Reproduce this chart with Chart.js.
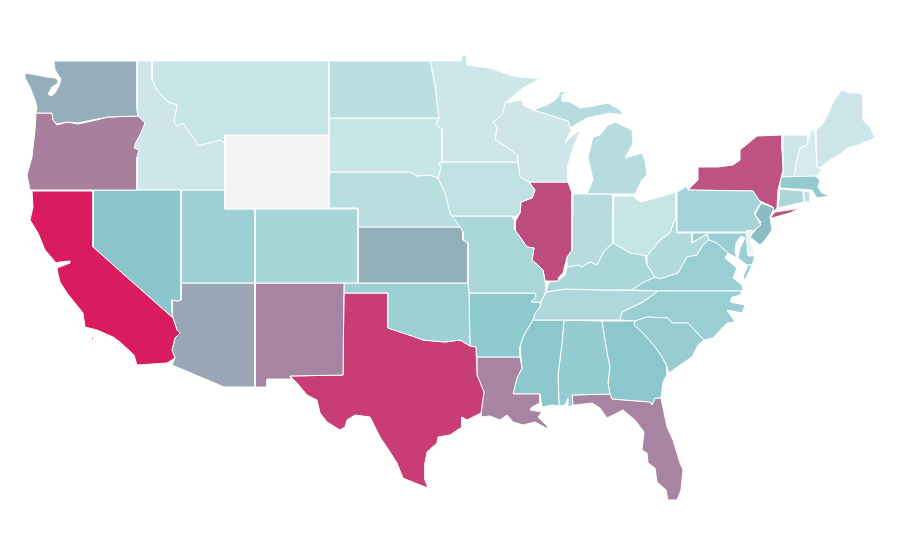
<!DOCTYPE html>
<html>
<head>
<meta charset="utf-8">
<title>US states</title>
<script src="https://cdn.jsdelivr.net/npm/chart.js@4/dist/chart.umd.min.js"></script>
<style>
  html, body { margin: 0; background: #fff; }
  canvas { display: block; }
</style>
</head>
<body>
<canvas id="mapCanvas" width="900" height="560"></canvas>
<script>
// state outlines, in map units (x, y)
const WA = [[54,61],[137,61],[137,110],[138,116],[108,117],[92,120],[78,123],[67,122],[57,124],[53,120],[52,113],[42,113],[36,113],[37,107],[35,100],[30,87],[25,78],[25,73],[37,75],[47,77],[55,78],[58,80],[57,84],[52,87],[48,94],[51,96],[55,93],[59,86],[61,79],[55,70]];
const OR = [[36,113],[42,113],[52,113],[53,120],[57,125],[67,122],[78,124],[92,121],[108,117],[138,116],[141,119],[145,123],[143,128],[140,135],[136,142],[134,148],[139,150],[137,157],[137,190],[30,190],[27,175],[32,157],[35,130]];
const CA = [[32,191],[93,191],[93,247],[130,280],[173,318],[177,330],[180,333],[175,338],[172,350],[175,358],[167,363],[137,365],[134,355],[120,342],[113,337],[97,330],[85,327],[83,313],[67,293],[60,282],[58,274],[57,268],[62,266],[70,263],[70,261],[60,262],[56,263],[52,258],[45,250],[38,233],[30,220],[33,207]];
const CA_ISLAND = [[92,337],[94,337],[94,340],[92,340]];
const NV = [[93,190],[181,190],[181,300],[178,301],[172,300],[172,312],[173,318],[130,280],[93,247]];
const ID = [[137,61],[152,61],[152,80],[157,90],[168,102],[177,105],[174,122],[177,126],[183,123],[190,133],[195,140],[198,146],[220,140],[225,143],[225,190],[137,190],[137,157],[139,150],[134,148],[136,142],[140,135],[143,128],[145,123],[141,119],[138,116],[137,110]];
const MT = [[152,61],[329,61],[329,135],[225,135],[225,143],[220,140],[198,146],[195,140],[190,133],[183,123],[177,126],[174,122],[177,105],[168,102],[157,90],[152,80]];
const WY = [[225,135],[329,135],[329,208],[225,209]];
const UT = [[181,190],[225,190],[225,209],[255,209],[255,283],[181,283]];
const CO = [[255,209],[358,209],[358,283],[255,283]];
const AZ = [[181,283],[255,283],[255,387],[224,387],[172,365],[175,358],[172,350],[175,338],[180,333],[177,330],[173,318],[172,312],[172,300],[178,301],[181,300]];
const NM = [[255,283],[344,283],[343,375],[290,376],[291,379],[267,379],[267,387],[255,387]];
const ND = [[329,61],[430,61],[435,85],[438,112],[439,118],[329,118]];
const SD = [[329,118],[439,118],[436,125],[442,129],[442,162],[438,163],[441,167],[438,178],[430,175],[417,176],[410,172],[329,172]];
const NE = [[329,172],[410,172],[417,176],[430,175],[438,178],[445,193],[450,213],[460,227],[358,227],[358,208],[329,208]];
const KS = [[358,227],[460,227],[463,232],[463,240],[468,243],[468,283],[358,283]];
const OK = [[344,283],[468,283],[469,293],[470,346],[460,340],[445,342],[423,340],[415,337],[400,332],[388,328],[388,293],[344,293]];
const TX = [[290,376],[343,375],[344,293],[388,293],[388,328],[400,332],[415,337],[423,340],[445,342],[460,340],[470,346],[476,347],[477,375],[484,392],[481,413],[467,420],[462,417],[462,427],[450,435],[438,437],[437,443],[427,452],[425,463],[425,480],[428,488],[415,483],[403,478],[397,463],[390,452],[380,437],[370,417],[355,415],[347,420],[345,427],[340,430],[327,422],[320,413],[317,400],[307,395],[297,383]];
const MN = [[430,61],[461,61],[462,55],[467,55],[467,65],[490,68],[510,75],[520,77],[540,79],[523,88],[505,103],[502,115],[493,122],[497,128],[495,140],[507,147],[517,155],[518,162],[442,162],[442,129],[436,125],[439,118],[438,112],[435,85]];
const IA = [[439,162],[518,162],[520,177],[529,182],[535,190],[532,198],[521,202],[520,213],[515,217],[512,216],[450,216],[445,193],[438,178],[441,167]];
const MO = [[450,216],[512,216],[515,222],[515,230],[527,247],[534,248],[532,260],[543,270],[545,281],[546,291],[541,302],[531,302],[536,297],[535,293],[469,293],[468,283],[468,243],[463,240],[463,232],[460,227]];
const AR = [[469,293],[535,293],[536,297],[531,302],[541,302],[540,307],[535,313],[533,320],[530,325],[525,333],[521,343],[520,347],[520,357],[477,357],[476,347],[470,346]];
const LA = [[477,357],[520,357],[522,368],[517,378],[513,394],[540,394],[540,403],[532,407],[530,410],[542,412],[538,417],[548,427],[548,429],[535,422],[523,425],[513,422],[507,415],[500,420],[490,416],[481,417],[482,405],[484,392],[477,375]];
const WI = [[505,103],[522,100],[523,105],[533,110],[568,121],[571,130],[565,143],[572,136],[581,129],[574,145],[568,165],[568,182],[529,182],[520,177],[518,162],[517,155],[507,147],[495,140],[497,128],[493,122],[502,115]];
const IL = [[529,182],[568,182],[572,193],[572,250],[567,257],[563,273],[558,278],[559,281],[545,281],[543,270],[532,260],[534,248],[527,247],[515,230],[515,222],[520,213],[521,202],[532,198],[535,190]];
const MI_UPPER = [[533,110],[547,105],[555,100],[558,97],[560,92],[568,91],[562,95],[562,101],[570,102],[580,108],[587,107],[608,103],[620,110],[623,115],[610,113],[587,118],[570,128],[568,121]];
const MI_LOWER = [[587,194],[593,180],[588,157],[593,137],[600,135],[608,125],[615,122],[632,130],[633,143],[625,158],[642,153],[645,160],[647,175],[642,180],[635,194]];
const IN = [[573,194],[613,194],[613,243],[605,250],[603,253],[597,265],[590,262],[582,267],[578,265],[567,267],[567,257],[572,250]];
const OH = [[614,196],[633,196],[640,202],[660,197],[676,192],[676,216],[670,233],[660,240],[647,256],[630,253],[620,247],[613,243]];
const KY = [[546,292],[549,282],[558,281],[565,275],[567,267],[578,265],[582,267],[590,262],[597,265],[603,253],[605,250],[613,243],[620,247],[630,253],[645,255],[647,265],[655,277],[642,283],[632,290],[603,290],[565,289]];
const TN = [[533,320],[535,313],[540,307],[541,302],[546,292],[565,289],[603,290],[658,291],[643,302],[622,312],[620,320]];
const MS = [[533,320],[564,320],[562,343],[558,375],[559,406],[552,405],[542,407],[540,394],[513,394],[517,378],[522,368],[521,358],[520,347],[521,343],[525,333],[530,325]];
const AL = [[564,320],[602,321],[607,353],[610,367],[608,383],[610,394],[572,395],[573,405],[568,407],[568,398],[565,405],[559,406],[558,375],[562,343]];
const GA = [[602,321],[635,321],[634,325],[643,333],[655,347],[662,357],[667,367],[667,375],[663,382],[661,398],[655,398],[652,405],[650,402],[612,399],[610,394],[608,383],[610,367],[607,353]];
const FL = [[572,395],[610,394],[612,399],[650,402],[652,405],[655,398],[661,398],[667,427],[673,440],[680,463],[683,470],[681,490],[677,500],[668,500],[666,490],[657,482],[655,468],[648,463],[647,453],[642,450],[644,432],[635,420],[623,410],[607,418],[600,408],[592,403],[575,405],[573,405]];
const SC = [[635,321],[647,317],[668,318],[672,323],[688,323],[704,340],[698,345],[692,357],[680,365],[669,373],[667,367],[662,357],[655,347],[643,333],[634,325]];
const NC = [[620,320],[622,312],[643,302],[658,291],[742,291],[740,295],[732,297],[730,302],[745,305],[742,313],[727,310],[735,322],[727,323],[713,338],[704,340],[688,323],[672,323],[668,318],[647,317],[635,321]];
const VA = [[632,290],[642,283],[655,277],[660,279],[678,273],[687,257],[697,255],[703,245],[709,240],[717,243],[728,253],[725,258],[737,268],[733,278],[742,285],[743,291],[658,291]];
const VA_SHORE = [[752,265],[745,280],[743,277],[748,265]];
const WV = [[647,256],[660,240],[670,233],[676,216],[677,233],[692,233],[692,243],[707,234],[709,240],[703,245],[697,255],[687,257],[678,273],[660,279],[655,277],[647,265]];
const MD = [[692,233],[746,233],[748,256],[755,256],[752,265],[747,265],[738,258],[740,248],[745,238],[741,236],[736,243],[735,252],[737,258],[728,253],[717,243],[709,240],[707,234],[692,243]];
const DE = [[746,231],[752,230],[750,240],[755,255],[748,256]];
const PA = [[677,192],[687,186],[688,190],[753,191],[757,197],[761,203],[754,213],[761,225],[752,232],[677,232]];
const NJ = [[761,203],[774,208],[770,217],[772,230],[765,240],[760,245],[750,237],[757,228],[761,222],[755,215]];
const NY = [[688,190],[698,180],[698,167],[718,167],[733,165],[740,160],[740,150],[757,136],[782,135],[782,150],[783,170],[778,190],[777,208],[773,212],[773,207],[758,200],[753,191]];
const NY_LONG_ISLAND = [[770,218],[775,212],[795,209],[802,207],[790,213],[772,218]];
const CT = [[780,189],[803,191],[804,202],[778,208]];
const RI = [[804,191],[810,192],[810,202],[804,202]];
const MA = [[780,177],[815,176],[820,180],[818,187],[822,193],[830,196],[823,197],[817,198],[812,190],[780,188]];
const VT = [[783,135],[808,135],[807,145],[800,148],[796,163],[794,177],[783,177],[783,160]];
const NH = [[811,130],[815,131],[817,167],[822,170],[818,175],[813,177],[794,177],[796,163],[800,148],[807,145]];
const ME = [[816,130],[822,125],[829,112],[834,100],[842,90],[850,93],[860,93],[863,97],[863,120],[870,127],[875,138],[858,145],[847,148],[842,153],[827,162],[820,168],[817,167]];

const stateShapes = [WA, OR, CA, CA_ISLAND, NV, ID, MT, WY, UT, CO, AZ, NM, ND, SD, NE, KS, OK, TX, MN, IA, MO, AR, LA, WI, IL, MI_UPPER, MI_LOWER, IN, OH, KY, TN, MS, AL, GA, FL, SC, NC, VA, VA_SHORE, WV, MD, DE, PA, NJ, NY, NY_LONG_ISLAND, CT, RI, MA, VT, NH, ME];
const stateNames = ['Washington','Oregon','California','California','Nevada','Idaho','Montana','Wyoming','Utah','Colorado','Arizona','New Mexico','North Dakota','South Dakota','Nebraska','Kansas','Oklahoma','Texas','Minnesota','Iowa','Missouri','Arkansas','Louisiana','Wisconsin','Illinois','Michigan','Michigan','Indiana','Ohio','Kentucky','Tennessee','Mississippi','Alabama','Georgia','Florida','South Carolina','North Carolina','Virginia','Virginia','West Virginia','Maryland','Delaware','Pennsylvania','New Jersey','New York','New York','Connecticut','Rhode Island','Massachusetts','Vermont','New Hampshire','Maine'];
const stateColors = ['#94afba','#a87f9d','#d91b60','#d91b60','#8bc6cd','#cee6ea','#c7e4e6','#f2f3f5','#9dd0d4','#a7d5d8','#9aa6b5','#a784a1','#bbdfe0','#c8e5e7','#b9dedf','#93afba','#9dd0d4','#c83d75','#cde6ea','#c0e1e4','#a9d6d9','#8ec9ce','#a784a1','#cee6ea','#bf4c7f','#b6dcdf','#b6dcdf','#b6dcdf','#c7e4e6','#a9d6d9','#afd8dc','#8cc7ce','#95ccd0','#8cc7ce','#a784a1','#97cdd1','#99ced2','#99ced2','#99ced2','#b1dadc','#99ced2','#e9f4f6','#a5d4d8','#8abcc5','#bd5283','#bd5283','#abd7da','#bfe0e3','#92cacf','#cde6ea','#d5ebed','#cde6ea'];

var datasets = stateShapes.map(function (shape, i) {
  var points = shape.map(function (p) { return { x: p[0], y: p[1] }; });
  points.push(points[0]); // close the outline
  return {
    label: stateNames[i],
    data: points,
    showLine: true,
    fill: 'shape',
    tension: 0,
    pointRadius: 0,
    pointHoverRadius: 0,
    borderWidth: 1,
    borderColor: '#ffffff',
    backgroundColor: stateColors[i]
  };
});

var ctx = document.getElementById('mapCanvas').getContext('2d');
var chart = new Chart(ctx, {
  type: 'scatter',
  data: { datasets: datasets },
  options: {
    responsive: false,
    animation: false,
    layout: { padding: 0 },
    plugins: { legend: { display: false }, tooltip: { enabled: false } },
    scales: {
      x: { type: 'linear', min: 0, max: 900, display: false },
      y: { type: 'linear', min: 0, max: 560, reverse: true, display: false }
    }
  }
});
</script>
</body>
</html>
